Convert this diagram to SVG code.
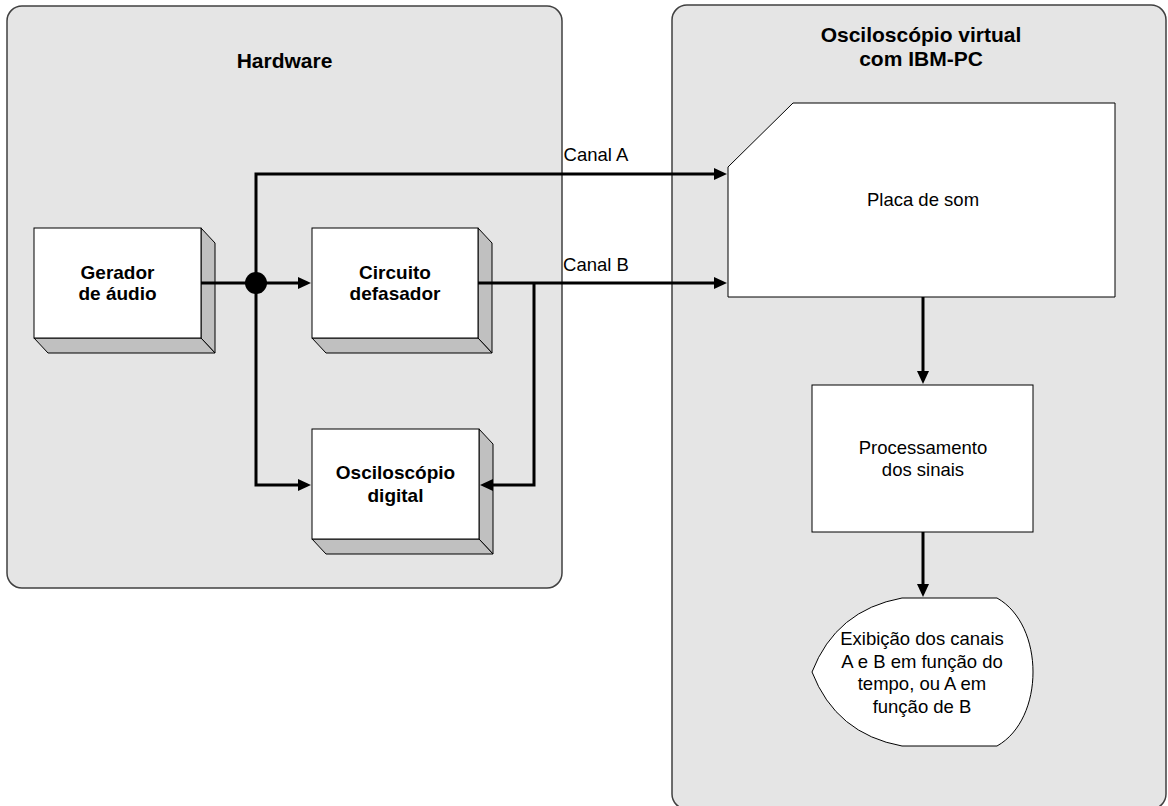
<svg xmlns="http://www.w3.org/2000/svg" width="1168" height="806" viewBox="0 0 1168 806">
  <style>
    .panel { fill: #e5e5e5; stroke: #404040; stroke-width: 1.5; }
    .front { fill: #ffffff; stroke: #000000; stroke-width: 1; }
    .side { fill: #c0c0c0; stroke: #000000; stroke-width: 1; }
    .shape { fill: #ffffff; stroke: #000000; stroke-width: 1; }
    .wire { fill: none; stroke: #000000; stroke-width: 3; }
    .title { font-family: "Liberation Sans", Arial, sans-serif; font-size: 21px; font-weight: bold; fill: #000; text-anchor: middle; }
    .blabel { font-family: "Liberation Sans", Arial, sans-serif; font-size: 19px; font-weight: bold; fill: #000; text-anchor: middle; }
    .label { font-family: "Liberation Sans", Arial, sans-serif; font-size: 18.5px; fill: #000; text-anchor: middle; }
  </style>
  <defs>
    <marker id="arrow" markerUnits="userSpaceOnUse" markerWidth="13" markerHeight="12" refX="7" refY="6" orient="auto">
      <path d="M0,0 L13,6 L0,12 z" fill="#000"/>
    </marker>
  </defs>

  <rect width="1168" height="806" fill="#ffffff"/>

  <!-- Hardware panel -->
  <g id="hardware">
    <rect class="panel" x="7" y="6" width="555" height="582" rx="15" ry="15"/>
    <text class="title" x="284.5" y="68">Hardware</text>
  </g>

  <!-- PC panel -->
  <g id="pc">
    <rect class="panel" x="672" y="5" width="494" height="804" rx="15" ry="15"/>
    <text class="title" x="921" y="42">Osciloscópio virtual</text>
    <text class="title" x="921" y="66">com IBM-PC</text>
  </g>

  <!-- Audio generator -->
  <g id="gerador">
    <polygon class="side" points="201,228 215,243 215,353 201,338"/>
    <polygon class="side" points="34,338 201,338 215,353 48,353"/>
    <rect class="front" x="34" y="228" width="167" height="110"/>
    <text class="blabel" x="117.5" y="279">Gerador</text>
    <text class="blabel" x="117.5" y="300">de áudio</text>
  </g>

  <!-- Phase shifter circuit -->
  <g id="circuito">
    <polygon class="side" points="478,228 492,243 492,353 478,338"/>
    <polygon class="side" points="312,338 478,338 492,353 326,353"/>
    <rect class="front" x="312" y="228" width="166" height="110"/>
    <text class="blabel" x="395" y="279">Circuito</text>
    <text class="blabel" x="395" y="300">defasador</text>
  </g>

  <!-- Digital oscilloscope -->
  <g id="osciloscopio">
    <polygon class="side" points="479,429 493,444 493,554 479,539"/>
    <polygon class="side" points="312,539 479,539 493,554 326,554"/>
    <rect class="front" x="312" y="429" width="167" height="110"/>
    <text class="blabel" x="395.5" y="479">Osciloscópio</text>
    <text class="blabel" x="395.5" y="502">digital</text>
  </g>

  <!-- Sound card -->
  <g id="placa">
    <polygon class="shape" points="793,103 1115,103 1115,297 728,297 728,167"/>
    <text class="label" x="923" y="206">Placa de som</text>
  </g>

  <!-- Signal processing -->
  <g id="processamento">
    <rect class="shape" x="812" y="385" width="221" height="147"/>
    <text class="label" x="923" y="454">Processamento</text>
    <text class="label" x="923" y="476">dos sinais</text>
  </g>

  <!-- Display -->
  <g id="exibicao">
    <path class="shape" d="M902,598 L997,598 C1045,625 1045,719 997,746 L902,746 Q836,734 812,672 Q836,610 902,598 z"/>
    <text class="label" x="922" y="645">Exibição dos canais</text>
    <text class="label" x="922" y="667.5">A e B em função do</text>
    <text class="label" x="922" y="690">tempo, ou A em</text>
    <text class="label" x="922" y="712.5">função de B</text>
  </g>

  <!-- Connectors -->
  <g id="connectors">
    <path class="wire" d="M201,283 L256,283"/>
    <path class="wire" d="M256,283 L305,283" marker-end="url(#arrow)"/>
    <path class="wire" d="M256,283 L256,174 L721,174" marker-end="url(#arrow)"/>
    <path class="wire" d="M256,283 L256,485 L305,485" marker-end="url(#arrow)"/>
    <path class="wire" d="M478,283 L721,283" marker-end="url(#arrow)"/>
    <path class="wire" d="M534,283 L534,485 L486,485" marker-end="url(#arrow)"/>
    <path class="wire" d="M923,297 L923,378" marker-end="url(#arrow)"/>
    <path class="wire" d="M923,532 L923,591" marker-end="url(#arrow)"/>
    <circle cx="256" cy="283" r="11" fill="#000"/>
    <text class="label" x="596" y="161">Canal A</text>
    <text class="label" x="596" y="271">Canal B</text>
  </g>
</svg>
